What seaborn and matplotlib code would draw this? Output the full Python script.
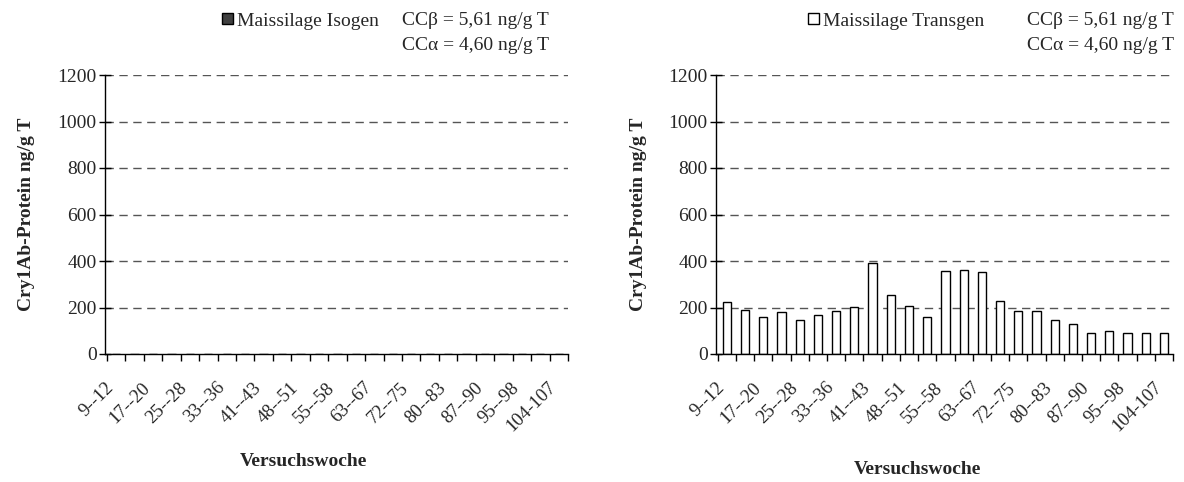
import numpy as np
import pandas as pd
import seaborn as sns
import matplotlib.pyplot as plt
from matplotlib.patches import Patch

# Versuchswochen (every other one is labelled on the axis)
weeks = ["9--12", "13--16", "17--20", "21--24", "25--28", "29--32", "33--36",
         "37--40", "41--43", "44--47", "48--51", "52--54", "55--58", "59--62",
         "63--67", "68--71", "72--75", "76--79", "80--83", "84--86", "87--90",
         "91--94", "95--98", "99--103", "104-107"]

# Cry1Ab protein, ng/g T
isogen = [0] * 25
transgen = [224, 191, 157, 179, 148, 169, 186, 201, 391, 255, 207, 157, 357,
            363, 353, 230, 186, 186, 148, 130, 92, 98, 92, 92, 92]

legend_labels = ["Maissilage Isogen", "Maissilage Transgen"]
cc_text = "CC\u03b2 = 5,61 ng/g T\nCC\u03b1 = 4,60 ng/g T"

sns.set_theme(style="white")
plt.rcParams["font.family"] = ["Liberation Serif", "DejaVu Sans"]
plt.rcParams["font.size"] = 14

W, H = 1184, 482
fig = plt.figure(figsize=(W / 100, H / 100), dpi=100)
ax1 = fig.add_axes([105 / W, 1 - 354 / H, 463 / W, 279 / H])
ax2 = fig.add_axes([716 / W, 1 - 354 / H, 457 / W, 279 / H])

panels = [
    (ax1, isogen, "#404040", legend_labels[0], 222, 402, (0.428, -0.355)),
    (ax2, transgen, "white", legend_labels[1], 808, 1027, (0.44, -0.384)),
]

for ax, vals, color, lab, leg_x, cc_x, xlab_pos in panels:
    df = pd.DataFrame({"week": weeks, "value": vals})
    sns.barplot(data=df, x="week", y="value", color=color, edgecolor="black",
                linewidth=1, width=0.45, saturation=1, ax=ax)
    ax.set_xlim(-0.5, len(weeks) - 0.5)
    ax.set_ylim(0, 1200)
    ax.set_yticks(np.arange(0, 1201, 200))
    for y in range(200, 1201, 200):
        ax.axhline(y, color="#555555", lw=1, ls=(0, (6, 4)), zorder=0)

    # tick marks between categories, labels on every other category
    ax.set_xticks(np.arange(-0.5, len(weeks), 1), minor=True)
    ax.set_xticks(np.arange(0, len(weeks), 2) - 0.6)
    ax.set_xticklabels(weeks[::2], rotation=45, ha="right", va="top",
                       rotation_mode="anchor", fontsize=13.5)
    ax.tick_params(axis="x", which="major", length=0, pad=18)
    ax.tick_params(axis="x", which="minor", length=5, width=1,
                   direction="out", color="black", bottom=True)
    ax.tick_params(axis="y", length=8, width=1, direction="inout",
                   color="black", left=True, labelsize=14, pad=2)

    for s in ["top", "right"]:
        ax.spines[s].set_visible(False)
    for s in ["left", "bottom"]:
        ax.spines[s].set_color("black")
        ax.spines[s].set_linewidth(1)

    ax.set_ylabel("Cry1Ab-Protein ng/g T", fontweight="bold", fontsize=14)
    ax.yaxis.set_label_coords(-0.152, 0.5)
    ax.set_xlabel("Versuchswoche", fontweight="bold", fontsize=14)
    ax.xaxis.set_label_coords(*xlab_pos)

    handle = Patch(facecolor=color, edgecolor="black", linewidth=1)
    ax.legend([handle], [lab], loc="center left", frameon=False,
              bbox_to_anchor=(leg_x / W, 1 - 21 / H),
              bbox_transform=fig.transFigure, borderpad=0, borderaxespad=0,
              handlelength=0.55, handleheight=0.55, handletextpad=0.2,
              fontsize=14)
    fig.text(cc_x / W, 1 - 33 / H, cc_text, ha="left", va="center",
             fontsize=14, linespacing=1.6)

fig.savefig("out.png", dpi=100)
